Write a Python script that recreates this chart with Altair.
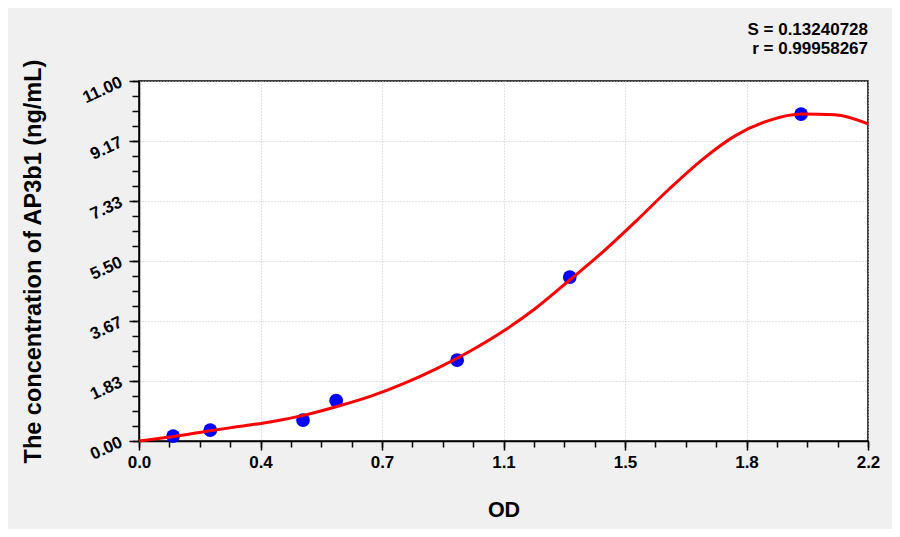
import altair as alt
import pandas as pd

# Measured standards (OD vs concentration)
od_points = [0.103, 0.215, 0.495, 0.595, 0.96, 1.30, 1.998]
conc_points = [0.15, 0.33, 0.64, 1.23, 2.47, 5.01, 9.99]

# Fitted curve
curve_od = [0.0, 0.1, 0.2, 0.3, 0.4, 0.5, 0.6, 0.7, 0.8, 0.9, 1.0, 1.1, 1.2, 1.3,
            1.4, 1.5, 1.6, 1.7, 1.8, 1.9, 2.0, 2.1, 2.2]
curve_conc = [0.0, 0.13, 0.29, 0.44, 0.59, 0.79, 1.06, 1.37, 1.76, 2.22, 2.75, 3.36, 4.08, 4.92,
              5.78, 6.72, 7.70, 8.60, 9.33, 9.79, 9.99, 9.97, 9.69]

x_ticks = [0.0, 2.2 / 6, 2.2 * 2 / 6, 2.2 * 3 / 6, 2.2 * 4 / 6, 2.2 * 5 / 6, 2.2]
y_ticks = [0.0, 11 / 6, 11 * 2 / 6, 11 * 3 / 6, 11 * 4 / 6, 11 * 5 / 6, 11.0]
x_minor = [2.2 * i / 24 for i in range(25)]
y_minor = [11 * i / 24 for i in range(25)]

stat_s = "S = 0.13240728"
stat_r = "r = 0.99958267"
x_title = "OD"
y_title = "The concentration of AP3b1 (ng/mL)"

pts = pd.DataFrame({"od": od_points, "conc": conc_points})
crv = pd.DataFrame({"od": curve_od, "conc": curve_conc})

FONT = "Liberation Sans, Arial"

xs = alt.Scale(domain=[0, 2.2], nice=False, zero=False)
ys = alt.Scale(domain=[0, 11], nice=False, zero=False)

major_x = alt.Axis(values=x_ticks, format=".1f", orient="bottom", grid=True,
                   gridColor="#c8c8c8", gridDash=[1, 2], gridWidth=1,
                   domainColor="black", domainWidth=1.5, tickColor="black",
                   tickSize=9, tickWidth=1.5, labelFont=FONT, labelFontSize=17,
                   labelFontWeight="bold", labelColor="black", labelPadding=4,
                   labelFlush=False, labelOverlap=False,
                   title=x_title, titleFont=FONT, titleFontSize=21.5,
                   titleFontWeight="bold", titleColor="black", titleY=69,
                   titleBaseline="middle")
major_y = alt.Axis(values=y_ticks, format=".2f", orient="left", grid=True,
                   gridColor="#c8c8c8", gridDash=[1, 2], gridWidth=1,
                   domainColor="black", domainWidth=1.5, tickColor="black",
                   tickSize=10, tickWidth=1.5, labelFont=FONT, labelFontSize=17,
                   labelFontWeight="bold", labelColor="black", labelAngle=335,
                   labelAlign="right", labelBaseline="middle", labelPadding=8,
                   labelFlush=False, labelOverlap=False,
                   title=y_title, titleFont=FONT, titleFontSize=23.5,
                   titleFontWeight="bold", titleColor="black", titleX=-106,
                   titleY=180, titleAngle=270, titleBaseline="middle",
                   titleAlign="center")
minor_x = alt.Axis(values=x_minor, orient="bottom", grid=False, labels=False,
                   domain=False, tickColor="black", tickSize=6, tickWidth=1.5,
                   title=None)
minor_y = alt.Axis(values=y_minor, orient="left", grid=False, labels=False,
                   domain=False, tickColor="black", tickSize=7, tickWidth=1.5,
                   title=None)

curve = alt.Chart(crv).mark_line(color="#ff0000", strokeWidth=3,
                                 interpolate="monotone").encode(
    x=alt.X("od:Q", scale=xs, axis=minor_x),
    y=alt.Y("conc:Q", scale=ys, axis=minor_y),
)

points = alt.Chart(pts).mark_circle(color="#0000ff", opacity=1, size=190).encode(
    x=alt.X("od:Q", scale=xs, axis=major_x),
    y=alt.Y("conc:Q", scale=ys, axis=major_y),
)

stat_style = dict(align="right", baseline="middle", font=FONT, fontSize=17,
                  fontWeight="bold", color="black")
label_s = alt.Chart(pd.DataFrame({"t": [stat_s]})).mark_text(**stat_style).encode(
    text="t:N", x=alt.value(729), y=alt.value(-51))
label_r = alt.Chart(pd.DataFrame({"t": [stat_r]})).mark_text(**stat_style).encode(
    text="t:N", x=alt.value(729), y=alt.value(-32))

chart = alt.layer(points, curve, label_s, label_r).resolve_axis(
    x="independent", y="independent").properties(
    width=729,
    height=360,
    padding={"left": 131, "top": 73, "right": 24, "bottom": 88},
    autosize=alt.AutoSizeParams(type="none"),
    background="#f0f0f0",
).configure_view(fill="white", stroke="black", strokeWidth=1.5)

chart.save("out.html", embed_options={"renderer": "svg", "actions": False})
